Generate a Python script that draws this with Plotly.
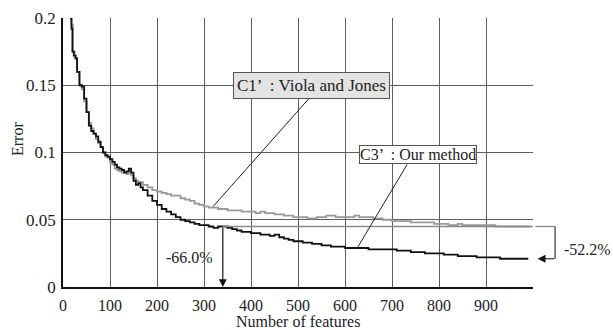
import plotly.graph_objects as go

# ---- data ----
x_c1 = [15, 18, 21, 25, 30, 35, 40, 45, 50, 55, 60, 65, 70, 75, 80, 85, 90, 95, 100, 105, 110, 115, 120, 125, 130,
        135, 140, 145, 150, 155, 160, 170, 180, 190, 200, 210, 220, 230, 240, 250, 260, 270, 280, 290, 300, 310,
        320, 330, 340, 350, 360, 370, 380, 390, 400, 410, 420, 430, 440, 450, 460, 470, 480, 490, 500, 510, 520,
        530, 540, 550, 560, 570, 580, 590, 600, 610, 620, 630, 640, 650, 660, 670, 680, 690, 700, 710, 720, 730,
        740, 750, 760, 770, 780, 790, 800, 810, 820, 830, 840, 850, 860, 870, 880, 890, 900, 910, 920, 930, 940,
        950, 960, 970, 980, 990, 995]
y_c1 = [0.200, 0.195, 0.175, 0.170, 0.160, 0.150, 0.147, 0.138, 0.130, 0.122, 0.118, 0.114, 0.110, 0.107, 0.104,
        0.100, 0.097, 0.096, 0.093, 0.091, 0.088, 0.087, 0.086, 0.085, 0.085, 0.084, 0.087, 0.083, 0.081, 0.079,
        0.078, 0.076, 0.074, 0.072, 0.071, 0.070, 0.069, 0.068, 0.068, 0.066, 0.065, 0.064, 0.062, 0.061, 0.060,
        0.059, 0.059, 0.058, 0.058, 0.057, 0.057, 0.057, 0.056, 0.056, 0.056, 0.055, 0.056, 0.055, 0.055, 0.054,
        0.054, 0.053, 0.053, 0.052, 0.052, 0.052, 0.051, 0.051, 0.052, 0.052, 0.053, 0.053, 0.052, 0.052, 0.052,
        0.052, 0.053, 0.052, 0.052, 0.052, 0.051, 0.051, 0.050, 0.050, 0.049, 0.049, 0.049, 0.049, 0.048, 0.048,
        0.048, 0.048, 0.048, 0.047, 0.047, 0.047, 0.046, 0.046, 0.047, 0.046, 0.046, 0.046, 0.046, 0.046, 0.046,
        0.046, 0.045, 0.045, 0.045, 0.045, 0.045, 0.045, 0.045, 0.045, 0.045]

x_c3 = [15, 18, 20, 23, 27, 30, 35, 40, 45, 50, 55, 60, 65, 70, 75, 80, 85, 90, 95, 100, 105, 110, 115, 120, 125,
        130, 135, 140, 145, 150, 155, 160, 165, 170, 180, 190, 200, 210, 220, 230, 240, 250, 260, 270, 280, 290,
        300, 310, 320, 330, 340, 350, 360, 370, 380, 390, 400, 410, 420, 430, 440, 450, 460, 470, 480, 490, 500,
        510, 520, 530, 540, 550, 560, 570, 580, 590, 600, 610, 620, 630, 640, 650, 660, 670, 680, 690, 700, 710,
        720, 730, 740, 750, 760, 770, 780, 790, 800, 810, 820, 830, 840, 850, 860, 870, 880, 890, 900, 910, 920,
        930, 940, 950, 960, 970, 980, 990]
y_c3 = [0.200, 0.192, 0.175, 0.172, 0.170, 0.160, 0.150, 0.149, 0.140, 0.130, 0.120, 0.116, 0.114, 0.112, 0.108,
        0.104, 0.100, 0.098, 0.097, 0.095, 0.093, 0.091, 0.089, 0.088, 0.087, 0.085, 0.086, 0.088, 0.085, 0.079,
        0.076, 0.077, 0.074, 0.072, 0.068, 0.064, 0.061, 0.058, 0.056, 0.054, 0.052, 0.050, 0.049, 0.048, 0.047,
        0.046, 0.046, 0.045, 0.044, 0.045, 0.045, 0.044, 0.043, 0.042, 0.041, 0.041, 0.040, 0.040, 0.039, 0.039,
        0.038, 0.039, 0.037, 0.036, 0.035, 0.034, 0.034, 0.033, 0.033, 0.032, 0.032, 0.031, 0.031, 0.030, 0.030,
        0.030, 0.029, 0.029, 0.029, 0.029, 0.029, 0.028, 0.028, 0.028, 0.028, 0.028, 0.028, 0.027, 0.027, 0.027,
        0.026, 0.026, 0.026, 0.025, 0.025, 0.025, 0.025, 0.024, 0.024, 0.024, 0.023, 0.023, 0.023, 0.023, 0.022,
        0.022, 0.022, 0.022, 0.022, 0.021, 0.021, 0.021, 0.021, 0.021, 0.021, 0.021]

x_tickvals = [0, 100, 200, 300, 400, 500, 600, 700, 800, 900, 1000]
x_ticktext = ["0", "100", "200", "300", "400", "500", "600", "700", "800", "900", ""]
y_tickvals = [0, 0.05, 0.1, 0.15, 0.2]
y_ticktext = ["0", "0.05", "0.1", "0.15", "0.2"]

c1_final = 0.045
c3_final = 0.021
cross_x = 340

FONT = "Liberation Serif, Times New Roman, serif"
TXT = "#222"

fig = go.Figure()
fig.add_trace(go.Scatter(x=x_c1, y=y_c1, mode="lines", line=dict(color="#999999", width=1.8, shape="hv"),
                         showlegend=False))
fig.add_trace(go.Scatter(x=x_c3, y=y_c3, mode="lines", line=dict(color="#111111", width=1.8, shape="hv"),
                         showlegend=False))

# reference line at final C1' level (inside the plot) and bracket outside the plot
fig.add_shape(type="line", xref="x", yref="y", x0=cross_x, x1=1000, y0=c1_final, y1=c1_final,
              line=dict(color="#8a8a8a", width=1.3))
fig.add_shape(type="line", xref="paper", yref="y", x0=1.005, x1=1.047, y0=c1_final, y1=c1_final,
              line=dict(color="#8a8a8a", width=1.3))
fig.add_shape(type="line", xref="paper", yref="y", x0=1.047, x1=1.047, y0=c1_final, y1=c3_final,
              line=dict(color="#333333", width=1.2))
fig.add_annotation(x=1.010, y=c3_final, xref="paper", yref="y", axref="pixel", ayref="pixel", ax=18, ay=0,
                   showarrow=True, arrowhead=2, arrowsize=1.3, arrowwidth=1.2, arrowcolor="#111", text="")
fig.add_annotation(x=cross_x, y=0.0, ax=cross_x, ay=c1_final, xref="x", yref="y", axref="x", ayref="y",
                   showarrow=True, arrowhead=2, arrowsize=1.3, arrowwidth=1.2, arrowcolor="#111", text="")

# leader lines
fig.add_shape(type="line", xref="x", yref="y", x0=523, y0=0.140, x1=319, y1=0.0597,
              line=dict(color="#222", width=1))
fig.add_shape(type="line", xref="x", yref="y", x0=732, y0=0.091, x1=626, y1=0.029,
              line=dict(color="#222", width=1))

fig.add_annotation(x=528, y=0.150, xref="x", yref="y", showarrow=False, xanchor="center",
                   text="C1’  : Viola and Jones", font=dict(family=FONT, size=17, color=TXT),
                   bgcolor="#e3e3e3", bordercolor="#555", borderwidth=1, borderpad=3)
fig.add_annotation(x=755, y=0.0985, xref="x", yref="y", showarrow=False, xanchor="center",
                   text="C3’  : Our method", font=dict(family=FONT, size=16, color=TXT),
                   bgcolor="white", bordercolor="#555", borderwidth=1, borderpad=0)
fig.add_annotation(x=270, y=0.0216, xref="x", yref="y", showarrow=False, xanchor="center",
                   text="-66.0%", font=dict(family=FONT, size=16, color=TXT))
fig.add_annotation(x=1.117, y=0.0276, xref="paper", yref="y", showarrow=False, xanchor="center",
                   text="-52.2%", font=dict(family=FONT, size=16, color=TXT))

# axis titles
fig.add_annotation(x=0.5, y=-0.130, xref="paper", yref="paper", showarrow=False, xanchor="center",
                   yanchor="middle", text="Number of features", font=dict(family=FONT, size=16, color=TXT))
fig.add_annotation(x=-0.098, y=0.55, xref="paper", yref="paper", showarrow=False, textangle=-90,
                   xanchor="center", yanchor="middle",
                   text="Error", font=dict(family=FONT, size=16, color=TXT))

fig.update_layout(
    width=613, height=330,
    margin=dict(l=63, r=80, t=18, b=43),
    paper_bgcolor="white", plot_bgcolor="white",
    font=dict(family=FONT, size=16, color=TXT),
    xaxis=dict(range=[0, 1000], tickvals=x_tickvals, ticktext=x_ticktext, showgrid=True, automargin=False,
               gridcolor="#5e5e5e", gridwidth=1.3, zeroline=False, showline=True, linecolor="#111",
               linewidth=1.6, ticks="", ticklabelstandoff=3, tickfont=dict(family=FONT, size=16)),
    yaxis=dict(range=[0, 0.2], tickvals=y_tickvals, ticktext=y_ticktext, showgrid=True, automargin=False,
               gridcolor="#5e5e5e", gridwidth=1.3, zeroline=False, showline=True, linecolor="#111",
               linewidth=1.6, ticks="", ticklabelstandoff=2, tickfont=dict(family=FONT, size=17)),
)

fig.write_html("out.html")
